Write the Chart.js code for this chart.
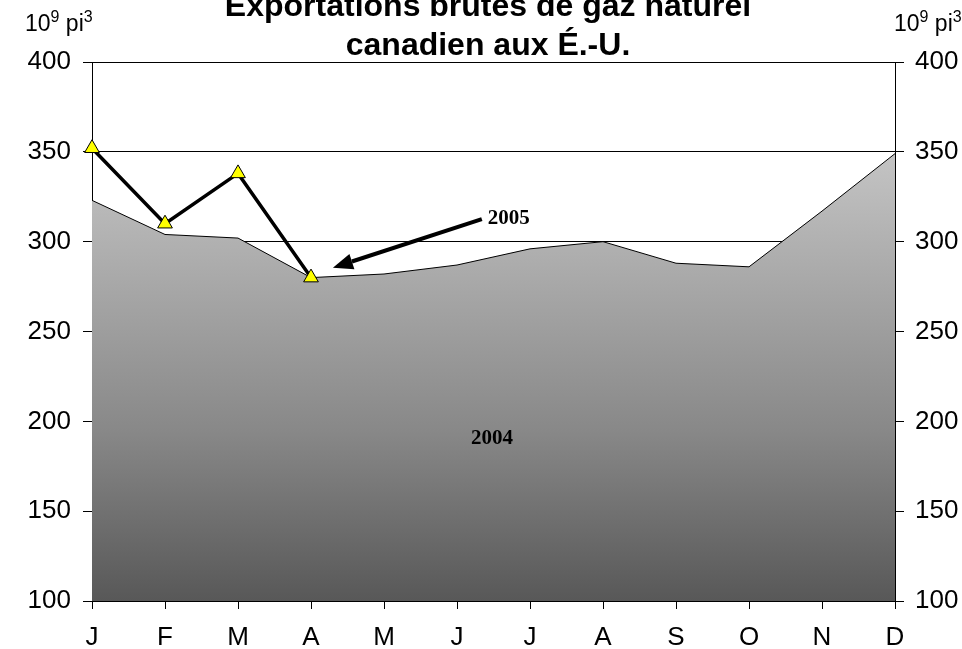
<!DOCTYPE html>
<html>
<head>
<meta charset="utf-8">
<script src="https://cdn.jsdelivr.net/npm/chart.js@4/dist/chart.umd.min.js"></script>
<style>
  html, body { margin: 0; padding: 0; background: #fff; }
  #wrap { width: 962px; height: 649px; }
</style>
</head>
<body>
<div id="wrap"><canvas id="gasChart" width="962" height="649"></canvas></div>
<script>
const months = ['J', 'F', 'M', 'A', 'M', 'J', 'J', 'A', 'S', 'O', 'N', 'D'];
const exports2004 = [323, 304, 302, 280, 282, 287, 296, 300, 288, 286, 317, 349];
const exports2005 = [352, 310, 338, 280];
const titleLines = ['Exportations brutes de gaz naturel', 'canadien aux É.-U.'];
const yMin = 100, yMax = 400, yStep = 50;

const FONT = "'Liberation Sans', Arial, sans-serif";
const SERIF = "'Liberation Serif', 'Times New Roman', serif";

// title, unit labels, arrow and series labels
const decorations = {
  id: 'decorations',
  afterDraw(chart) {
    const c = chart.ctx;
    const xs = chart.scales.x, ys = chart.scales.y;
    c.save();
    c.fillStyle = '#000';
    c.textAlign = 'center';
    c.textBaseline = 'alphabetic';
    c.font = 'bold 32px ' + FONT;
    c.fillText(titleLines[0], 488, 16);
    c.fillText(titleLines[1], 488, 55);

    // "10⁹ pi³" with hand-drawn superscripts
    function unit(x) {
      const parts = [['10', false], ['9', true], [' pi', false], ['3', true]];
      c.textAlign = 'left';
      let w = 0;
      parts.forEach(([txt, sup]) => {
        c.font = (sup ? '16px ' : '23px ') + FONT;
        c.fillText(txt, x + w, sup ? 22 : 31);
        w += c.measureText(txt).width;
      });
    }
    unit(25);
    unit(894);

    // arrow pointing at the April 2005 point
    const x0 = xs.getPixelForValue(5.34), y0 = ys.getPixelForValue(312.5);
    const x1 = xs.getPixelForValue(3.3), y1 = ys.getPixelForValue(285.5);
    const ang = Math.atan2(y1 - y0, x1 - x0);
    const headLen = 20, headW = 8;
    const bx = x1 - Math.cos(ang) * headLen, by = y1 - Math.sin(ang) * headLen;
    c.strokeStyle = '#000';
    c.lineWidth = 4;
    c.beginPath();
    c.moveTo(x0, y0);
    c.lineTo(bx, by);
    c.stroke();
    c.beginPath();
    c.moveTo(x1, y1);
    c.lineTo(bx + Math.sin(ang) * headW, by - Math.cos(ang) * headW);
    c.lineTo(bx - Math.sin(ang) * headW, by + Math.cos(ang) * headW);
    c.closePath();
    c.fill();

    c.font = 'bold 21px ' + SERIF;
    c.textAlign = 'left';
    c.textBaseline = 'middle';
    c.fillText('2005', xs.getPixelForValue(5.42), ys.getPixelForValue(313));
    c.textAlign = 'center';
    c.fillText('2004', xs.getPixelForValue(5.48), ys.getPixelForValue(190.5));
    c.restore();
  }
};

function areaGradient(context) {
  const chart = context.chart;
  const ca = chart.chartArea;
  if (!ca) return '#999';
  const top = chart.scales.y.getPixelForValue(Math.max(...exports2004));
  const g = chart.ctx.createLinearGradient(0, top, 0, ca.bottom);
  g.addColorStop(0, '#c4c4c4');
  g.addColorStop(0.62, '#888888');
  g.addColorStop(1, '#585858');
  return g;
}

const tickFont = { family: FONT, size: 26 };

new Chart(document.getElementById('gasChart'), {
  type: 'line',
  data: {
    labels: months,
    datasets: [{
      label: '2005',
      data: exports2005,
      borderColor: '#000',
      borderWidth: 3.5,
      pointStyle: 'triangle',
      pointRadius: 8.5,
      pointBackgroundColor: '#ffff00',
      pointBorderColor: '#000',
      pointBorderWidth: 1,
      tension: 0,
      fill: false,
      order: 1
    }, {
      label: '2004',
      data: exports2004,
      borderColor: '#000',
      borderWidth: 1,
      backgroundColor: areaGradient,
      pointRadius: 0,
      tension: 0,
      fill: 'start',
      order: 2
    }]
  },
  options: {
    responsive: false,
    animation: false,
    layout: { padding: { top: 62, left: 0, right: 0, bottom: 0 } },
    plugins: {
      legend: { display: false },
      title: { display: false },
      tooltip: { enabled: false }
    },
    scales: {
      x: {
        offset: false,
        grid: { drawOnChartArea: false, color: '#000', tickLength: 8 },
        border: { color: '#000', width: 1 },
        ticks: { font: tickFont, color: '#000', padding: 13, maxRotation: 0, autoSkip: false },
        afterFit(scale) { scale.height = 48; }
      },
      y: {
        position: 'left',
        min: yMin, max: yMax,
        grid: { color: '#000', lineWidth: 1, tickLength: 9 },
        border: { color: '#000', width: 1 },
        ticks: { stepSize: yStep, font: tickFont, color: '#000', padding: 12 },
        afterFit(scale) { scale.width = 92; }
      },
      y2: {
        position: 'right',
        min: yMin, max: yMax,
        grid: { drawOnChartArea: false, color: '#000', tickLength: 9 },
        border: { color: '#000', width: 1 },
        ticks: { stepSize: yStep, font: tickFont, color: '#000', padding: 11 },
        afterFit(scale) { scale.width = 67; }
      }
    }
  },
  plugins: [decorations]
});
</script>
</body>
</html>
